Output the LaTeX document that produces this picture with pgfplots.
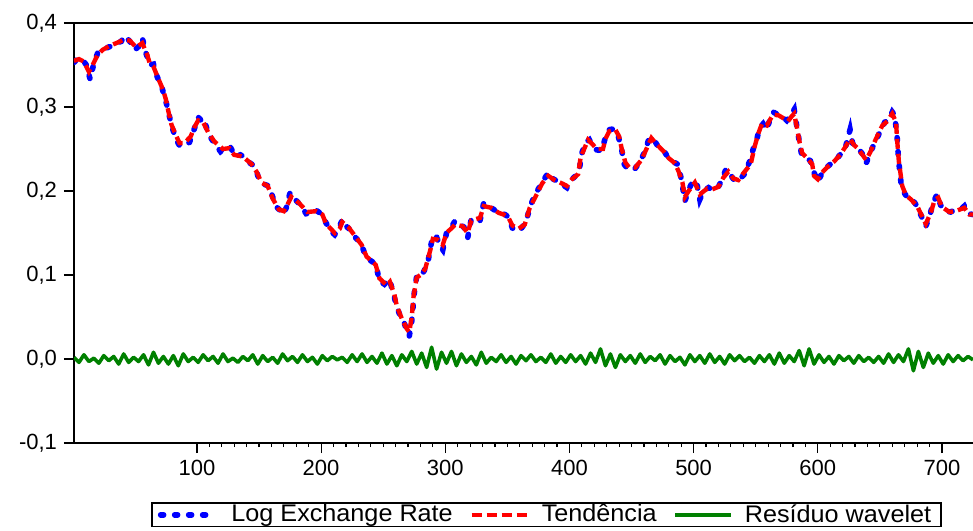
\documentclass[border=0pt]{standalone}
\usepackage{fontspec}
\setmainfont{Liberation Sans}
\newfontfamily\legendfont[FakeStretch=1.05]{Liberation Sans}
\usepackage{pgfplots}
\pgfplotsset{compat=1.18}
\definecolor{egreen}{RGB}{0,128,0}

\begin{document}
\begin{tikzpicture}
% 1px of the reference = 0.5pt
\useasboundingbox (-37pt,-43.5pt) rectangle (449.5pt,221.5pt);
\begin{axis}[
    scale only axis,
    width=449.5pt, height=210pt,
    xmin=1, xmax=725,
    ymin=-0.1, ymax=0.4,
    axis x line=box, axis y line=left,
    axis line style={-, line width=1pt},
    xtick pos=lower, ytick pos=left,
    tick align=outside,
    xtick={100,200,...,700},
    minor x tick num=9,
    ytick={-0.1,0,0.1,0.2,0.3,0.4},
    major tick length=5pt, minor tick length=2pt,
    tick style={black, line width=0.6pt},
    ticklabel style={font=\fontsize{11}{13}\selectfont},
    /pgf/number format/assume math mode=true,
    yticklabel style={/pgf/number format/.cd, fixed, fixed zerofill, precision=1, use comma},
    xticklabel style={/pgf/number format/.cd, fixed, precision=0, 1000 sep={}},
    legend columns=3,
    legend cell align=left,
    legend image code/.code={\draw[#1] (0pt,0pt) -- (28pt,0pt);},
    legend style={at={(0.0857,-0.1405)}, anchor=north west,
        draw=black, line width=0.8pt, inner xsep=3pt, inner ysep=0.5pt,
        font=\legendfont\fontsize{12}{13}\selectfont,
        nodes={inner xsep=2pt, inner ysep=0.3pt},
        /tikz/every odd column/.append style={column sep=4pt},
        /tikz/every even column/.append style={column sep=6.3pt}},
]

\addplot[blue, line width=2.8pt, line cap=round, dash pattern=on 1.5pt off 5.5pt] coordinates {
(1,0.353)(4,0.358)(8,0.356)(11,0.350)(14,0.333)(17,0.352)(20,0.364)(25,0.369)(30,0.372)(35,0.376)
(39,0.378)(42,0.385)(46,0.378)(50,0.368)(53,0.372)(56,0.382)(59,0.364)(62,0.350)(65,0.351)(68,0.336)
(72,0.322)(75,0.307)(77,0.294)(80,0.276)(83,0.262)(86,0.254)(90,0.254)(94,0.258)(97,0.270)(101,0.288)
(104,0.283)(106,0.285)(109,0.268)(114,0.257)(119,0.247)(123,0.252)(127,0.252)(131,0.241)(135,0.243)(139,0.240)
(143,0.233)(147,0.229)(150,0.213)(154,0.208)(158,0.206)(161,0.193)(164,0.181)(167,0.177)(169,0.172)(172,0.180)
(175,0.198)(179,0.190)(183,0.184)(188,0.173)(192,0.174)(196,0.177)(200,0.173)(204,0.162)(208,0.152)(211,0.148)
(214,0.154)(217,0.166)(221,0.157)(225,0.152)(228,0.144)(232,0.138)(236,0.122)(240,0.117)(244,0.113)(247,0.093)
(251,0.089)(255,0.095)(258,0.079)(261,0.062)(264,0.050)(266,0.047)(269,0.034)(271,0.027)(273,0.045)(275,0.078)
(277,0.099)(280,0.098)(283,0.105)(286,0.115)(288,0.132)(290,0.147)(293,0.145)(296,0.134)(298,0.130)(301,0.150)
(305,0.157)(308,0.165)(312,0.160)(315,0.157)(318,0.144)(321,0.167)(325,0.167)(328,0.165)(331,0.186)(335,0.182)
(339,0.178)(343,0.174)(347,0.173)(351,0.169)(354,0.156)(357,0.152)(361,0.155)(365,0.163)(368,0.180)(372,0.195)
(376,0.205)(380,0.215)(383,0.222)(386,0.215)(390,0.212)(394,0.208)(398,0.204)(402,0.214)(405,0.218)(408,0.226)
(410,0.245)(413,0.258)(416,0.261)(419,0.252)(422,0.249)(426,0.248)(429,0.264)(432,0.273)(436,0.274)(439,0.267)
(442,0.250)(444,0.232)(447,0.226)(450,0.225)(453,0.227)(457,0.235)(461,0.248)(464,0.262)(467,0.263)(471,0.254)
(475,0.250)(479,0.241)(483,0.235)(487,0.232)(490,0.215)(493,0.188)(496,0.202)(500,0.213)(503,0.206)(505,0.190)
(508,0.200)(512,0.204)(516,0.201)(520,0.205)(523,0.214)(526,0.226)(529,0.221)(533,0.212)(537,0.214)(541,0.220)
(545,0.235)(548,0.250)(551,0.262)(553,0.275)(556,0.280)(559,0.273)(562,0.288)(564,0.294)(568,0.291)(572,0.288)
(575,0.284)(578,0.290)(581,0.297)(583,0.278)(585,0.260)(587,0.243)(590,0.240)(594,0.236)(597,0.222)(600,0.211)
(603,0.220)(607,0.228)(611,0.233)(615,0.238)(619,0.245)(622,0.250)(624,0.262)(626,0.273)(628,0.257)(632,0.252)
(636,0.244)(639,0.233)(642,0.245)(646,0.258)(650,0.270)(654,0.282)(657,0.284)(660,0.294)(662,0.290)(664,0.262)
(665,0.238)(667,0.210)(670,0.197)(673,0.190)(677,0.188)(680,0.182)(684,0.168)(687,0.158)(690,0.170)(693,0.186)
(696,0.196)(699,0.183)(703,0.176)(707,0.175)(711,0.178)(715,0.178)(718,0.182)(721,0.173)(725,0.172)
};
\addlegendentry{Log Exchange Rate}

\addplot[red, line width=2.2pt, dash pattern=on 5pt off 2.5pt] coordinates {
(1,0.355)(5,0.357)(9,0.354)(13,0.342)(16,0.350)(20,0.362)(24,0.368)(30,0.373)(35,0.376)(41,0.380)
(46,0.379)(51,0.371)(56,0.376)(60,0.362)(62,0.352)(65,0.348)(68.5,0.335)(72.6,0.321)(75,0.309)(77,0.295)
(79.5,0.279)(83.5,0.265)(86,0.257)(90,0.257)(95,0.265)(98,0.276)(101,0.284)(105,0.282)(109,0.270)(114,0.259)
(121,0.250)(126,0.251)(130,0.243)(137,0.241)(144,0.232)(148,0.223)(152,0.210)(157,0.206)(161,0.191)(166,0.178)
(170,0.176)(173,0.184)(176,0.193)(182,0.186)(189,0.175)(196,0.176)(201,0.172)(204,0.161)(211,0.150)(215,0.155)
(217,0.163)(222,0.157)(228,0.145)(232.6,0.136)(236.6,0.122)(244,0.112)(247,0.096)(252.7,0.088)(255.4,0.092)(259,0.077)
(261,0.063)(265,0.048)(269,0.036)(271,0.032)(273,0.050)(274.5,0.075)(277,0.097)(281,0.101)(284,0.108)(288,0.130)
(290,0.143)(294,0.142)(298,0.136)(301,0.150)(308,0.160)(314,0.158)(318,0.150)(321,0.165)(328,0.168)(331,0.182)
(337,0.180)(343,0.174)(347,0.172)(351,0.168)(354,0.159)(359,0.155)(364,0.160)(368,0.180)(374,0.197)(378,0.209)
(383,0.218)(388,0.213)(394,0.209)(398,0.206)(402,0.214)(407,0.220)(409,0.240)(413,0.254)(415,0.261)(419,0.255)
(422,0.250)(427,0.250)(429,0.262)(432,0.271)(437,0.273)(440,0.265)(442,0.251)(445,0.234)(448,0.228)(453,0.228)
(458,0.237)(462,0.250)(466,0.263)(470,0.256)(476,0.247)(480,0.239)(485,0.233)(488,0.223)(491,0.210)(493,0.193)
(496,0.200)(501,0.210)(505,0.196)(511,0.203)(515,0.202)(520,0.205)(524,0.216)(528,0.223)(532,0.215)(536,0.213)
(540,0.221)(546,0.232)(549,0.252)(552,0.268)(555,0.280)(559,0.278)(562,0.286)(564,0.291)(568.5,0.290)(573,0.286)
(576,0.283)(579,0.289)(581,0.292)(583,0.277)(585.5,0.257)(587.5,0.245)(591.5,0.239)(595.5,0.232)(597,0.218)(600,0.214)
(603.5,0.222)(608,0.229)(613,0.235)(618,0.243)(622,0.252)(626,0.262)(629,0.255)(632,0.251)(636,0.243)(639,0.237)
(642.5,0.247)(646.5,0.261)(652,0.278)(656,0.283)(660,0.292)(663,0.282)(664,0.259)(665.3,0.235)(668,0.206)(671,0.195)
(675,0.190)(680,0.182)(684,0.170)(687,0.161)(691,0.174)(694,0.189)(697,0.192)(700,0.181)(706,0.175)(711,0.176)
(718,0.180)(722,0.172)(725,0.172)
};
\addlegendentry{Tendência}

\addplot[egreen, line width=1.8pt, line join=round] coordinates {
(1,0.002)(5,-0.004)(9,0.005)(13,-0.003)(17,0.001)(21,-0.005)(25,0.004)(29,-0.002)(33,0.003)(37,-0.006)
(41,0.006)(45,-0.004)(49,0.002)(53,-0.003)(57,0.005)(61,-0.007)(65,0.008)(69,-0.005)(73,0.003)(77,-0.006)
(81,0.004)(85,-0.008)(89,0.006)(93,-0.003)(97,0.002)
(101,-0.004)(105,0.005)(109,-0.002)(113,0.003)(117,-0.005)(121,0.006)(125,-0.003)(129,0.001)(133,-0.004)(137,0.003)
(141,-0.002)(145,0.005)(149,-0.006)(153,0.004)(157,-0.003)(161,0.002)(165,-0.005)(169,0.006)(173,-0.002)(177,0.003)
(181,-0.004)(185,0.005)(189,-0.003)(193,0.002)(197,-0.006)
(201,0.004)(205,-0.002)(209,0.003)(213,-0.001)(217,0.002)(221,-0.004)(225,0.005)(229,-0.003)(233,0.006)(237,-0.004)
(241,0.003)(245,-0.005)(249,0.007)(253,-0.006)(257,0.004)(261,-0.008)(265,0.005)(269,-0.003)(273,0.009)(277,-0.006)
(281,0.007)(285,-0.010)(289,0.014)(293,-0.012)(297,0.008)
(301,-0.005)(305,0.009)(309,-0.008)(313,0.006)(317,-0.004)(321,0.003)(325,-0.007)(329,0.008)(333,-0.005)(337,0.002)
(341,-0.003)(345,0.005)(349,-0.004)(353,0.003)(357,-0.006)(361,0.004)(365,-0.002)(369,0.005)(373,-0.003)(377,0.002)
(381,-0.004)(385,0.006)(389,-0.005)(393,0.003)(397,-0.004)
(401,0.005)(405,-0.003)(409,0.004)(413,-0.006)(417,0.007)(421,-0.004)(425,0.012)(429,-0.008)(433,0.006)(437,-0.010)
(441,0.005)(445,-0.003)(449,0.004)(453,-0.005)(457,0.006)(461,-0.004)(465,0.003)(469,-0.002)(473,0.005)(477,-0.006)
(481,0.004)(485,-0.003)(489,0.002)(493,-0.007)(497,0.005)
(501,-0.003)(505,0.004)(509,-0.005)(513,0.006)(517,-0.004)(521,0.003)(525,-0.006)(529,0.005)(533,-0.002)(537,0.004)
(541,-0.003)(545,0.002)(549,-0.005)(553,0.004)(557,-0.003)(561,0.005)(565,-0.006)(569,0.007)(573,-0.005)(577,0.004)
(581,-0.003)(585,0.010)(589,-0.008)(593,0.012)(597,-0.006)
(601,0.005)(605,-0.004)(609,0.003)(613,-0.006)(617,0.004)(621,-0.002)(625,0.003)(629,-0.005)(633,0.004)(637,-0.003)
(641,0.002)(645,-0.004)(649,0.003)(653,-0.005)(657,0.006)(661,-0.004)(665,0.005)(669,-0.003)(673,0.012)(677,-0.014)
(681,0.009)(685,-0.010)(689,0.007)(693,-0.005)(697,0.004)
(701,-0.006)(705,0.005)(709,-0.003)(713,0.004)(717,-0.002)(721,0.003)(725,-0.001)
};
\addlegendentry{Resíduo wavelet}

\end{axis}
\end{tikzpicture}
\end{document}
